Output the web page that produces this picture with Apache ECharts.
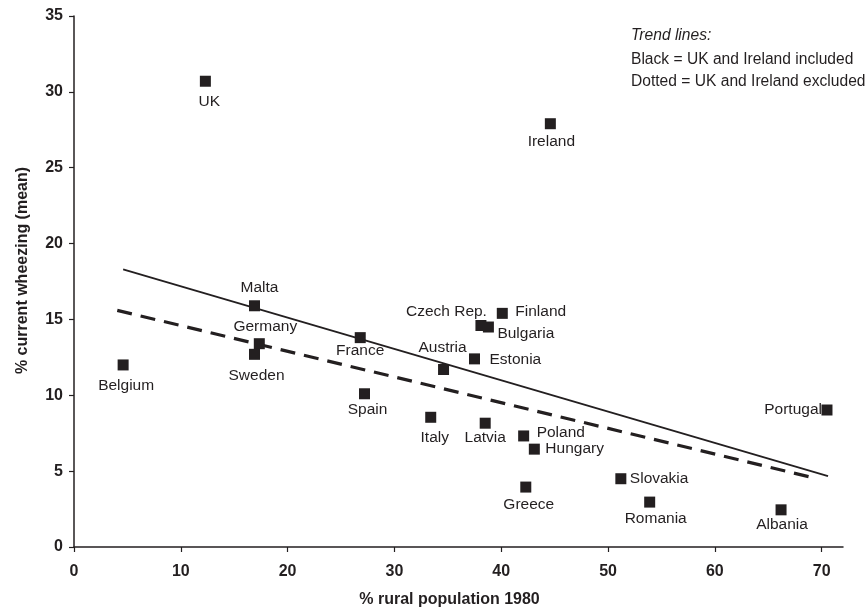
<!DOCTYPE html>
<html>
<head>
<meta charset="utf-8">
<script src="https://cdn.jsdelivr.net/npm/echarts@6/dist/echarts.min.js"></script>
<style>
html,body{margin:0;padding:0;background:#fff;}
#chart{width:867px;height:609px;}
</style>
</head>
<body>
<div id="chart"></div>
<script>
// ---- data ----
var countries = ['Belgium','UK','Malta','Germany','Sweden','France','Spain','Italy','Austria','Estonia','Czech Rep.','Bulgaria','Latvia','Finland','Poland','Greece','Hungary','Ireland','Slovakia','Romania','Albania','Portugal'];
var ruralPop1980 = [4.6,12.3,16.9,17.35,16.9,26.8,27.2,33.4,34.6,37.5,38.1,38.8,38.5,40.1,42.1,42.3,43.1,44.6,51.2,53.9,66.2,70.5];
var wheezing = [12.0,30.7,15.9,13.4,12.7,13.8,10.1,8.55,11.7,12.4,14.6,14.5,8.16,15.4,7.32,3.95,6.45,27.9,4.5,2.96,2.45,9.03];
var trendIncludedX = [4.6,70.6];
var trendIncludedY = [18.3,4.67];
var trendExcludedX = [4.05,68.9];
var trendExcludedY = [15.6,4.62];
var xTicks = [0,10,20,30,40,50,60,70];
var yTicks = [0,5,10,15,20,25,30,35];
var noteLines = ['Trend lines:','Black = UK and Ireland included','Dotted = UK and Ireland excluded'];

// ---- label placement (style, relative to marker centre) ----
var labelPlace = {
  'UK':[4,20,'center'], 'Ireland':[1,18,'center'], 'Malta':[5,-18,'center'],
  'Germany':[6,-17,'center'], 'Sweden':[2,21,'center'], 'France':[0,13,'center'],
  'Spain':[3,16,'center'], 'Austria':[-1,-22,'center'], 'Estonia':[15,1,'left'],
  'Czech Rep.':[6,-14,'right'], 'Bulgaria':[9,7,'left'], 'Finland':[13,-2,'left'],
  'Italy':[4,20,'center'], 'Latvia':[0,15,'center'], 'Poland':[13,-3,'left'],
  'Hungary':[11,0,'left'], 'Greece':[3,18,'center'], 'Slovakia':[9,0,'left'],
  'Romania':[6,17,'center'], 'Albania':[1,15,'center'], 'Portugal':[-5,0,'right'],
  'Belgium':[3,21,'center']
};

var INK = '#231f20';
var FONT = '"Liberation Sans", Arial, Helvetica, sans-serif';

var points = countries.map(function(c,i){
  var p = labelPlace[c];
  return {
    name: c,
    value: [ruralPop1980[i], wheezing[i]],
    label: {
      show: true, formatter: c, position: 'inside',
      offset: [p[0], p[1]], align: p[2], verticalAlign: 'middle',
      color: INK, fontSize: 15.5, fontFamily: FONT
    }
  };
});

function pairs(xs, ys){ return xs.map(function(x,i){ return [x, ys[i]]; }); }

var chart = echarts.init(document.getElementById('chart'), null, {renderer:'canvas'});
chart.setOption({
  animation: false,
  backgroundColor: '#ffffff',
  grid: { left: 74, right: 24, top: 16, bottom: 62, containLabel: false, outerBoundsMode: 'none' },
  xAxis: {
    type: 'value', min: 0, max: 72, interval: 10,
    name: '% rural population 1980', nameLocation: 'middle', nameGap: 45,
    nameTextStyle: { fontWeight: 'bold', fontSize: 16, color: INK, fontFamily: FONT, padding: [0,18,0,0] },
    axisLine: { show: true, onZero: false, lineStyle: { color: INK, width: 1.5 } },
    axisTick: { show: true, length: 5, lineStyle: { color: INK, width: 1.2 }, customValues: xTicks },
    axisLabel: { color: INK, fontWeight: 'bold', fontSize: 16, fontFamily: FONT, margin: 17, customValues: xTicks },
    splitLine: { show: false }
  },
  yAxis: {
    type: 'value', min: 0, max: 35, interval: 5,
    name: '% current wheezing (mean)', nameLocation: 'middle', nameGap: 43,
    nameTextStyle: { fontWeight: 'bold', fontSize: 16, color: INK, fontFamily: FONT, padding: [0,0,0,22] },
    axisLine: { show: true, onZero: false, lineStyle: { color: INK, width: 1.5 } },
    axisTick: { show: true, length: 5, lineStyle: { color: INK, width: 1.2 }, customValues: yTicks },
    axisLabel: { color: INK, fontWeight: 'bold', fontSize: 16, fontFamily: FONT, margin: 11, customValues: yTicks },
    splitLine: { show: false }
  },
  graphic: noteLines.map(function(t,i){
    return {
      type: 'text', left: 631, top: [28, 52, 74][i],
      style: { text: t, fill: INK, fontSize: 15.6, fontFamily: FONT, fontStyle: i === 0 ? 'italic' : 'normal' }
    };
  }),
  series: [
    {
      type: 'line', data: pairs(trendIncludedX, trendIncludedY), symbol: 'none',
      lineStyle: { color: INK, width: 1.8 }, z: 2, silent: true
    },
    {
      type: 'line', data: pairs(trendExcludedX, trendExcludedY), symbol: 'none',
      lineStyle: { color: INK, width: 3.2, type: [15, 9] }, z: 2, silent: true
    },
    {
      type: 'scatter', data: points, symbol: 'rect', symbolSize: 11,
      itemStyle: { color: INK, opacity: 1 }, z: 3
    }
  ]
});
</script>
</body>
</html>
